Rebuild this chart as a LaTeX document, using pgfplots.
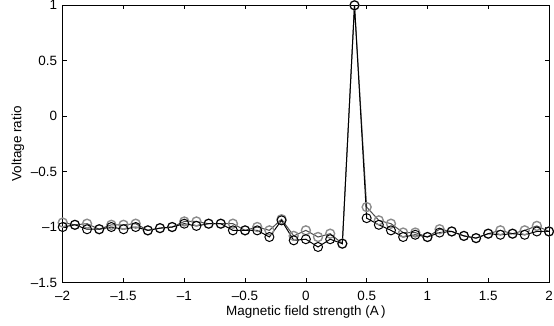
\documentclass[border=0pt]{standalone}
\usepackage{fontspec}
\setmainfont{Liberation Sans}
\usepackage{pgfplots}
\pgfplotsset{compat=1.18}
\begin{document}
\fontsize{13.5}{16}\selectfont
\begin{tikzpicture}
\begin{axis}[
  name=ax,
  scale only axis,
  width=486bp, height=277bp,
  xmin=-2, xmax=2, ymin=-1.5, ymax=1,
  xtick={-2,-1.5,...,2}, ytick={-1.5,-1,...,1},
  xticklabels={–2,–1.5,–1,–0.5,0,0.5,1,1.5,2},
  yticklabels={–1.5,–1,–0.5,0,0.5,1},
  tick align=inside, tick pos=both,
  major tick length=4bp,
  tick style={black, line width=0.5pt},
  axis line style={black, line width=0.7pt},
  tick label style={font=\fontsize{13.5}{16}\selectfont},
  label style={font=\fontsize{13.5}{16}\selectfont},
  xticklabel style={anchor=center, yshift=-13bp},
  yticklabel style={anchor=east, xshift=-1bp},
  xlabel={Magnetic field strength (A\,)},
  ylabel={Voltage ratio},
  xlabel style={at={(axis description cs:0.5,-0.108)}, anchor=center},
  ylabel style={at={(axis description cs:-0.092,0.5)}, anchor=center},
  clip=false,
]
\addplot[color=black!70, line width=1pt, mark=o, mark size=4.5bp,
  mark options={draw=black!45, line width=1.4pt, fill=none}] coordinates {
(-2.0,-0.96) (-1.9,-0.98) (-1.8,-0.97) (-1.7,-1.02) (-1.6,-0.98)
(-1.5,-0.98) (-1.4,-0.97) (-1.3,-1.03) (-1.2,-1.01) (-1.1,-1.00)
(-1.0,-0.95) (-0.9,-0.95) (-0.8,-0.97) (-0.7,-0.97) (-0.6,-0.97)
(-0.5,-1.03) (-0.4,-1.00) (-0.3,-1.03) (-0.2,-0.93) (-0.1,-1.08)
(0.0,-1.03) (0.1,-1.09) (0.2,-1.06) (0.3,-1.15) (0.4,1.00)
(0.5,-0.82) (0.6,-0.94) (0.7,-0.97) (0.8,-1.05) (0.9,-1.05)
(1.0,-1.09) (1.1,-1.02) (1.2,-1.04) (1.3,-1.08) (1.4,-1.10)
(1.5,-1.06) (1.6,-1.03) (1.7,-1.06) (1.8,-1.03) (1.9,-0.99)
(2.0,-1.04)
};
\addplot[color=black, line width=1pt, mark=o, mark size=4.5bp,
  mark options={draw=black, line width=1pt, fill=none}] coordinates {
(-2.0,-1.00) (-1.9,-0.98) (-1.8,-1.02) (-1.7,-1.02) (-1.6,-1.00)
(-1.5,-1.02) (-1.4,-1.00) (-1.3,-1.03) (-1.2,-1.01) (-1.1,-1.00)
(-1.0,-0.97) (-0.9,-0.99) (-0.8,-0.97) (-0.7,-0.97) (-0.6,-1.03)
(-0.5,-1.03) (-0.4,-1.03) (-0.3,-1.09) (-0.2,-0.94) (-0.1,-1.12)
(0.0,-1.11) (0.1,-1.18) (0.2,-1.11) (0.3,-1.15) (0.4,1.00)
(0.5,-0.92) (0.6,-0.98) (0.7,-1.03) (0.8,-1.09) (0.9,-1.07)
(1.0,-1.09) (1.1,-1.05) (1.2,-1.04) (1.3,-1.08) (1.4,-1.10)
(1.5,-1.06) (1.6,-1.07) (1.7,-1.06) (1.8,-1.07) (1.9,-1.04)
(2.0,-1.04)
};
\end{axis}
\pgfresetboundingbox
\path (ax.south west) ++(-62.7bp,-43bp) coordinate (bl);
\path (ax.north east) ++(5bp,5.3bp) coordinate (tr);
\useasboundingbox (bl) rectangle (tr);
\end{tikzpicture}
\end{document}
